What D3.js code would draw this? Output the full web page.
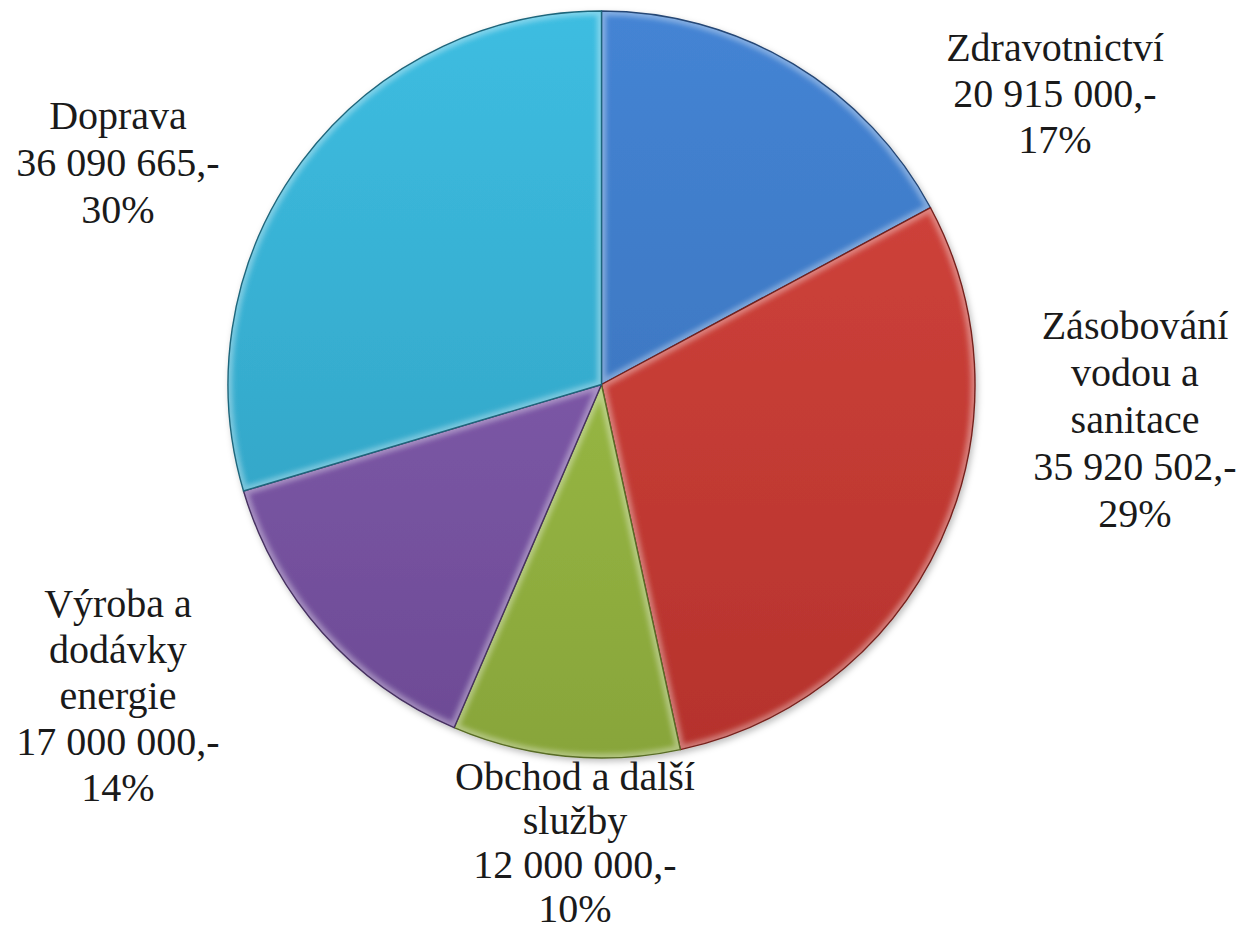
<!DOCTYPE html>
<html>
<head>
<meta charset="utf-8">
<script src="https://cdn.jsdelivr.net/npm/d3@7"></script>
<style>
  html, body { margin: 0; padding: 0; background: #fff; }
  svg { display: block; }
  .label { font-family: 'Liberation Serif', 'DejaVu Serif', 'Times New Roman', serif; }
</style>
</head>
<body>
<div id="root"></div>
<script>
const categories = [
  'Zdravotnictví',
  'Zásobování\nvodou a\nsanitace',
  'Obchod a další\nslužby',
  'Výroba a\ndodávky\nenergie',
  'Doprava',
];
const values = [20915000, 35920502, 12000000, 17000000, 36090665];
const colorsTop = ['#4484d4', '#d6473f', '#a4c64c', '#8a63b6', '#3dbde1'];
const colorsBottom = ['#386db3', '#b5322c', '#88a53a', '#6c4a94', '#2f9cbc'];

// where each label block sits (center x, first baseline, line step)
const labelAnchors = [
  [1055, 61, 46],
  [1135, 339, 47],
  [575, 790, 44],
  [118, 617, 46],
  [118, 129, 47],
];

function drawPie() {
  const dimensions = { width: 1240, height: 934 };
  const center = { x: 601.5, y: 384.5 };
  const radius = 373.5;

  const total = d3.sum(values);
  const data = values.map((v, i) => ({
    name: categories[i],
    value: v,
    top: colorsTop[i],
    bottom: colorsBottom[i],
    anchor: labelAnchors[i],
  }));

  const csLocale = d3.formatLocale({
    decimal: ',',
    thousands: ' ',
    grouping: [3],
    currency: ['', ' Kč'],
  });
  const valueFormatter = d => csLocale.format(',d')(d) + ',-';
  const percentFormatter = d3.format('.0%');

  const pie = d3.pie().sort(null).value(d => d.value);
  const arcs = pie(data);
  const arcGenerator = d3.arc().innerRadius(0).outerRadius(radius);

  const wrapper = d3
    .select('#root')
    .append('svg')
    .attr('width', dimensions.width)
    .attr('height', dimensions.height)
    .attr('viewBox', [0, 0, dimensions.width, dimensions.height]);

  const defs = wrapper.append('defs');

  const shadow = defs
    .append('filter')
    .attr('id', 'shadow')
    .attr('x', '-10%')
    .attr('y', '-10%')
    .attr('width', '120%')
    .attr('height', '120%');
  shadow
    .append('feDropShadow')
    .attr('dx', 2)
    .attr('dy', 3)
    .attr('stdDeviation', 3)
    .attr('flood-color', '#000')
    .attr('flood-opacity', 0.25);

  defs
    .append('filter')
    .attr('id', 'soft')
    .append('feGaussianBlur')
    .attr('stdDeviation', 2.5);

  arcs.forEach((a, i) => {
    const grad = defs
      .append('linearGradient')
      .attr('id', `grad-${i}`)
      .attr('gradientUnits', 'userSpaceOnUse')
      .attr('x1', 0)
      .attr('y1', -radius)
      .attr('x2', 0)
      .attr('y2', radius);
    grad.append('stop').attr('offset', '0%').attr('stop-color', a.data.top);
    grad.append('stop').attr('offset', '100%').attr('stop-color', a.data.bottom);

    defs
      .append('clipPath')
      .attr('id', `clip-${i}`)
      .append('path')
      .attr('d', arcGenerator(a));
  });

  const bounds = wrapper
    .append('g')
    .attr('transform', `translate(${center.x}, ${center.y})`);

  const pieGroup = bounds.append('g').attr('filter', 'url(#shadow)');

  const slices = pieGroup
    .selectAll('g.slice')
    .data(arcs)
    .join('g')
    .attr('class', 'slice');

  slices
    .append('path')
    .attr('d', arcGenerator)
    .attr('fill', (d, i) => `url(#grad-${i})`);

  // soft bevel highlight along each slice edge
  slices
    .append('path')
    .attr('d', arcGenerator)
    .attr('clip-path', (d, i) => `url(#clip-${i})`)
    .attr('fill', 'none')
    .attr('stroke', '#fff')
    .attr('stroke-opacity', 0.35)
    .attr('stroke-width', 9)
    .attr('filter', 'url(#soft)');

  slices
    .append('path')
    .attr('d', arcGenerator)
    .attr('fill', 'none')
    .attr('stroke', d => d3.color(d.data.bottom).darker(1.2))
    .attr('stroke-width', 1.4)
    .attr('stroke-linejoin', 'round');

  const labelGroup = wrapper
    .append('g')
    .attr('class', 'label')
    .attr('font-size', 40)
    .attr('fill', '#1a1a1a')
    .attr('text-anchor', 'middle');

  arcs.forEach(a => {
    const [x, y0, step] = a.data.anchor;
    const lines = a.data.name
      .split('\n')
      .concat([valueFormatter(a.data.value), percentFormatter(a.data.value / total)]);
    const text = labelGroup.append('text').attr('x', x).attr('y', y0);
    lines.forEach((line, j) => {
      text
        .append('tspan')
        .attr('x', x)
        .attr('y', y0 + j * step)
        .text(line);
    });
  });
}

drawPie();
</script>
</body>
</html>
